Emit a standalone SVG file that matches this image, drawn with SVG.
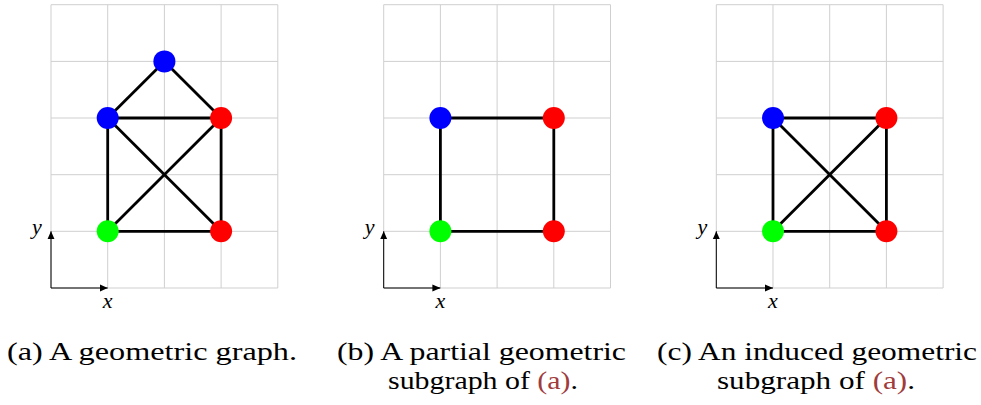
<svg xmlns="http://www.w3.org/2000/svg" width="981" height="405" viewBox="0 0 981 405">
<style>
.grid{stroke:#cfcfcf;stroke-width:1;fill:none}
.edge{stroke:#000;stroke-width:2.8;fill:none}
.axis{stroke:#000;stroke-width:1;fill:none}
.blue{fill:#0000ff}
.red{fill:#ff0000}
.green{fill:#00ff00}
.lbl{font-family:"Liberation Serif",serif;font-style:italic;font-size:22px;fill:#000}
.cap{font-family:"Liberation Serif",serif;font-size:25px;fill:#000}
.ref{fill:#a03c3c}
</style>
<defs>
<marker id="arr" viewBox="0 0 10 10" refX="10" refY="5" markerWidth="8" markerHeight="8" markerUnits="userSpaceOnUse" orient="auto">
<path d="M0,0.5 L10,5 L0,9.5 z" fill="#000"/>
</marker>
<g id="gridpat">
<path class="grid" d="M51,4.7H277.8M51,61.4H277.8M51,118H277.8M51,174.7H277.8M51,231.3H277.8M51,288H277.8M51,4.7V288M107.7,4.7V288M164.4,4.7V288M221.1,4.7V288M277.8,4.7V288"/>
</g>
</defs>

<g id="panel-a">
<use href="#gridpat"/>
<g id="axes-a">
<line class="axis" x1="51" y1="288" x2="107.7" y2="288" marker-end="url(#arr)"/>
<line class="axis" x1="51" y1="288" x2="51" y2="231.3" marker-end="url(#arr)"/>
<text class="lbl" x="37" y="234" text-anchor="middle">y</text>
<text class="lbl" x="107.7" y="308" text-anchor="middle">x</text>
</g>
<g id="edges-a">
<line class="edge" x1="164.4" y1="61.4" x2="107.7" y2="118"/>
<line class="edge" x1="164.4" y1="61.4" x2="221.1" y2="118"/>
<line class="edge" x1="107.7" y1="118" x2="221.1" y2="118"/>
<line class="edge" x1="107.7" y1="118" x2="107.7" y2="231.3"/>
<line class="edge" x1="221.1" y1="118" x2="221.1" y2="231.3"/>
<line class="edge" x1="107.7" y1="231.3" x2="221.1" y2="231.3"/>
<line class="edge" x1="107.7" y1="118" x2="221.1" y2="231.3"/>
<line class="edge" x1="107.7" y1="231.3" x2="221.1" y2="118"/>
</g>
<g id="a-n1"><circle class="blue" cx="164.4" cy="61.4" r="11"/></g>
<g id="a-n2"><circle class="blue" cx="107.7" cy="118" r="11"/></g>
<g id="a-n3"><circle class="red" cx="221.1" cy="118" r="11"/></g>
<g id="a-n4"><circle class="green" cx="107.7" cy="231.3" r="11"/></g>
<g id="a-n5"><circle class="red" cx="221.1" cy="231.3" r="11"/></g>
<text class="cap" x="152" y="360" text-anchor="middle" textLength="290" lengthAdjust="spacingAndGlyphs">(a) A geometric graph.</text>
</g>

<g id="panel-b" transform="translate(332.7,0)">
<use href="#gridpat"/>
<g id="axes-b">
<line class="axis" x1="51" y1="288" x2="107.7" y2="288" marker-end="url(#arr)"/>
<line class="axis" x1="51" y1="288" x2="51" y2="231.3" marker-end="url(#arr)"/>
<text class="lbl" x="37" y="234" text-anchor="middle">y</text>
<text class="lbl" x="107.7" y="308" text-anchor="middle">x</text>
</g>
<g id="edges-b">
<line class="edge" x1="107.7" y1="118" x2="221.1" y2="118"/>
<line class="edge" x1="107.7" y1="118" x2="107.7" y2="231.3"/>
<line class="edge" x1="221.1" y1="118" x2="221.1" y2="231.3"/>
<line class="edge" x1="107.7" y1="231.3" x2="221.1" y2="231.3"/>
</g>
<g id="b-n2"><circle class="blue" cx="107.7" cy="118" r="11"/></g>
<g id="b-n3"><circle class="red" cx="221.1" cy="118" r="11"/></g>
<g id="b-n4"><circle class="green" cx="107.7" cy="231.3" r="11"/></g>
<g id="b-n5"><circle class="red" cx="221.1" cy="231.3" r="11"/></g>
</g>
<g id="caption-b">
<text class="cap" x="481.5" y="360" text-anchor="middle" textLength="289" lengthAdjust="spacingAndGlyphs">(b) A partial geometric</text>
<text class="cap" x="483" y="389" text-anchor="middle" textLength="190" lengthAdjust="spacingAndGlyphs">subgraph of <tspan class="ref">(a)</tspan>.</text>
</g>

<g id="panel-c" transform="translate(665.3,0)">
<use href="#gridpat"/>
<g id="axes-c">
<line class="axis" x1="51" y1="288" x2="107.7" y2="288" marker-end="url(#arr)"/>
<line class="axis" x1="51" y1="288" x2="51" y2="231.3" marker-end="url(#arr)"/>
<text class="lbl" x="37" y="234" text-anchor="middle">y</text>
<text class="lbl" x="107.7" y="308" text-anchor="middle">x</text>
</g>
<g id="edges-c">
<line class="edge" x1="107.7" y1="118" x2="221.1" y2="118"/>
<line class="edge" x1="107.7" y1="118" x2="107.7" y2="231.3"/>
<line class="edge" x1="221.1" y1="118" x2="221.1" y2="231.3"/>
<line class="edge" x1="107.7" y1="231.3" x2="221.1" y2="231.3"/>
<line class="edge" x1="107.7" y1="118" x2="221.1" y2="231.3"/>
<line class="edge" x1="107.7" y1="231.3" x2="221.1" y2="118"/>
</g>
<g id="c-n2"><circle class="blue" cx="107.7" cy="118" r="11"/></g>
<g id="c-n3"><circle class="red" cx="221.1" cy="118" r="11"/></g>
<g id="c-n4"><circle class="green" cx="107.7" cy="231.3" r="11"/></g>
<g id="c-n5"><circle class="red" cx="221.1" cy="231.3" r="11"/></g>
</g>
<g id="caption-c">
<text class="cap" x="817" y="360" text-anchor="middle" textLength="320" lengthAdjust="spacingAndGlyphs">(c) An induced geometric</text>
<text class="cap" x="816" y="389" text-anchor="middle" textLength="198" lengthAdjust="spacingAndGlyphs">subgraph of <tspan class="ref">(a)</tspan>.</text>
</g>
</svg>
